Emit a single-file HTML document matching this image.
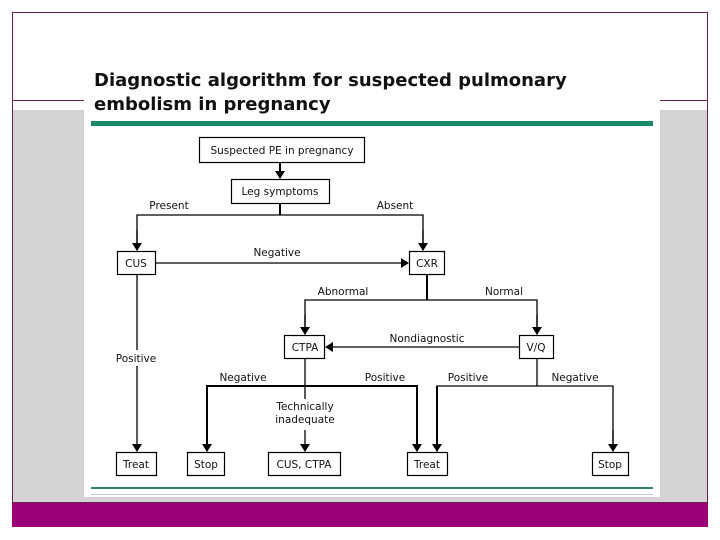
<!DOCTYPE html>
<html><head><meta charset="utf-8"><style>
html,body{margin:0;padding:0;background:#fff;}
body{width:720px;height:540px;overflow:hidden;}
svg{display:block;}
text{font-family:"DejaVu Sans","Liberation Sans",sans-serif;font-size:10.5px;fill:#111;}
</style></head><body>
<svg width="720" height="540" viewBox="0 0 720 540" xmlns="http://www.w3.org/2000/svg">
<defs>
<marker id="a" markerWidth="8" markerHeight="10" refX="7" refY="5" orient="auto" markerUnits="userSpaceOnUse">
<path d="M0,0 L8,5 L0,10 Z" fill="#000"/></marker>
</defs>
<rect x="0" y="0" width="720" height="540" fill="#fff"/>
<rect x="12.5" y="12.5" width="695" height="490" fill="none" stroke="#6b1f50" stroke-width="1"/>
<line x1="12" y1="100.5" x2="708" y2="100.5" stroke="#6b1f50"/>
<rect x="13" y="110" width="694" height="392" fill="#d3d3d3"/>
<rect x="84" y="95" width="576" height="402" fill="#fff"/>
<rect x="12" y="503" width="696" height="24" fill="#9b0079"/>
<text x="94" y="86" style="font-family:'DejaVu Sans',sans-serif;font-size:18px;font-weight:bold;fill:#111">Diagnostic algorithm for suspected pulmonary</text>
<text x="94" y="110" style="font-family:'DejaVu Sans',sans-serif;font-size:18px;font-weight:bold;fill:#111">embolism in pregnancy</text>
<rect x="91" y="121" width="562" height="5" fill="#1a8a6a"/>
<rect x="91" y="487" width="562" height="2" fill="#2e8070"/>
<line x1="91" y1="494.5" x2="653" y2="494.5" stroke="#ccc"/>
<g fill="#fff" stroke="#000" stroke-width="1.2">
<rect x="199.5" y="137.5" width="165" height="25"/>
<rect x="231.5" y="179.5" width="98" height="24"/>
<rect x="117.5" y="251.5" width="38" height="23"/>
<rect x="409.5" y="251.5" width="35" height="23"/>
<rect x="284.5" y="335.5" width="40" height="23"/>
<rect x="519.5" y="335.5" width="34" height="23"/>
<rect x="116.5" y="452.5" width="40" height="23"/>
<rect x="187.5" y="452.5" width="37" height="23"/>
<rect x="268.5" y="452.5" width="72" height="23"/>
<rect x="407.5" y="452.5" width="40" height="23"/>
<rect x="592.5" y="452.5" width="36" height="23"/>
</g>
<g fill="none" stroke="#000">
<line x1="280" y1="162" x2="280" y2="178" stroke-width="2" marker-end="url(#a)"/>
<line x1="280" y1="203" x2="280" y2="215" stroke-width="2"/>
<polyline points="137,250 137,215 423,215 423,250" stroke-width="1.3"/>
<line x1="137" y1="230" x2="137" y2="250" stroke-width="1.3" marker-end="url(#a)"/>
<line x1="423" y1="230" x2="423" y2="250" stroke-width="1.3" marker-end="url(#a)"/>
<line x1="156" y1="263" x2="408" y2="263" stroke-width="1.3" marker-end="url(#a)"/>
<line x1="427" y1="275" x2="427" y2="300" stroke-width="2"/>
<polyline points="305,334 305,300 537,300 537,334" stroke-width="1.3"/>
<line x1="305" y1="315" x2="305" y2="334" stroke-width="1.3" marker-end="url(#a)"/>
<line x1="537" y1="315" x2="537" y2="334" stroke-width="1.3" marker-end="url(#a)"/>
<line x1="519" y1="347" x2="326" y2="347" stroke-width="1.3" marker-end="url(#a)"/>
<line x1="137" y1="275" x2="137" y2="350" stroke-width="1.3"/>
<line x1="137" y1="366" x2="137" y2="451" stroke-width="1.3" marker-end="url(#a)"/>
<line x1="305" y1="359" x2="305" y2="399" stroke-width="1.3"/>
<line x1="305" y1="430" x2="305" y2="451" stroke-width="1.3" marker-end="url(#a)"/>
<polyline points="207,451 207,386 417,386 417,451" stroke-width="2"/>
<line x1="207" y1="430" x2="207" y2="451" stroke-width="2" marker-end="url(#a)"/>
<line x1="417" y1="430" x2="417" y2="451" stroke-width="2" marker-end="url(#a)"/>
<line x1="537" y1="359" x2="537" y2="386" stroke-width="1.3"/>
<polyline points="437,451 437,386 613,386 613,451" stroke-width="1.3"/>
<line x1="437" y1="386" x2="437" y2="451" stroke-width="2" marker-end="url(#a)"/>
<line x1="613" y1="430" x2="613" y2="451" stroke-width="1.3" marker-end="url(#a)"/>
</g>
<g text-anchor="middle">
<text x="282" y="154">Suspected PE in pregnancy</text>
<text x="280" y="195">Leg symptoms</text>
<text x="169" y="209">Present</text>
<text x="395" y="209">Absent</text>
<text x="136" y="267">CUS</text>
<text x="427" y="267">CXR</text>
<text x="277" y="256">Negative</text>
<text x="343" y="295">Abnormal</text>
<text x="504" y="295">Normal</text>
<text x="305" y="351">CTPA</text>
<text x="536" y="351">V/Q</text>
<text x="427" y="342">Nondiagnostic</text>
<text x="136" y="362">Positive</text>
<text x="243" y="381">Negative</text>
<text x="385" y="381">Positive</text>
<text x="468" y="381">Positive</text>
<text x="575" y="381">Negative</text>
<text x="305" y="410">Technically</text>
<text x="305" y="423">inadequate</text>
<text x="136" y="468">Treat</text>
<text x="206" y="468">Stop</text>
<text x="304" y="468">CUS, CTPA</text>
<text x="427" y="468">Treat</text>
<text x="610" y="468">Stop</text>
</g>
</svg>
</body></html>
